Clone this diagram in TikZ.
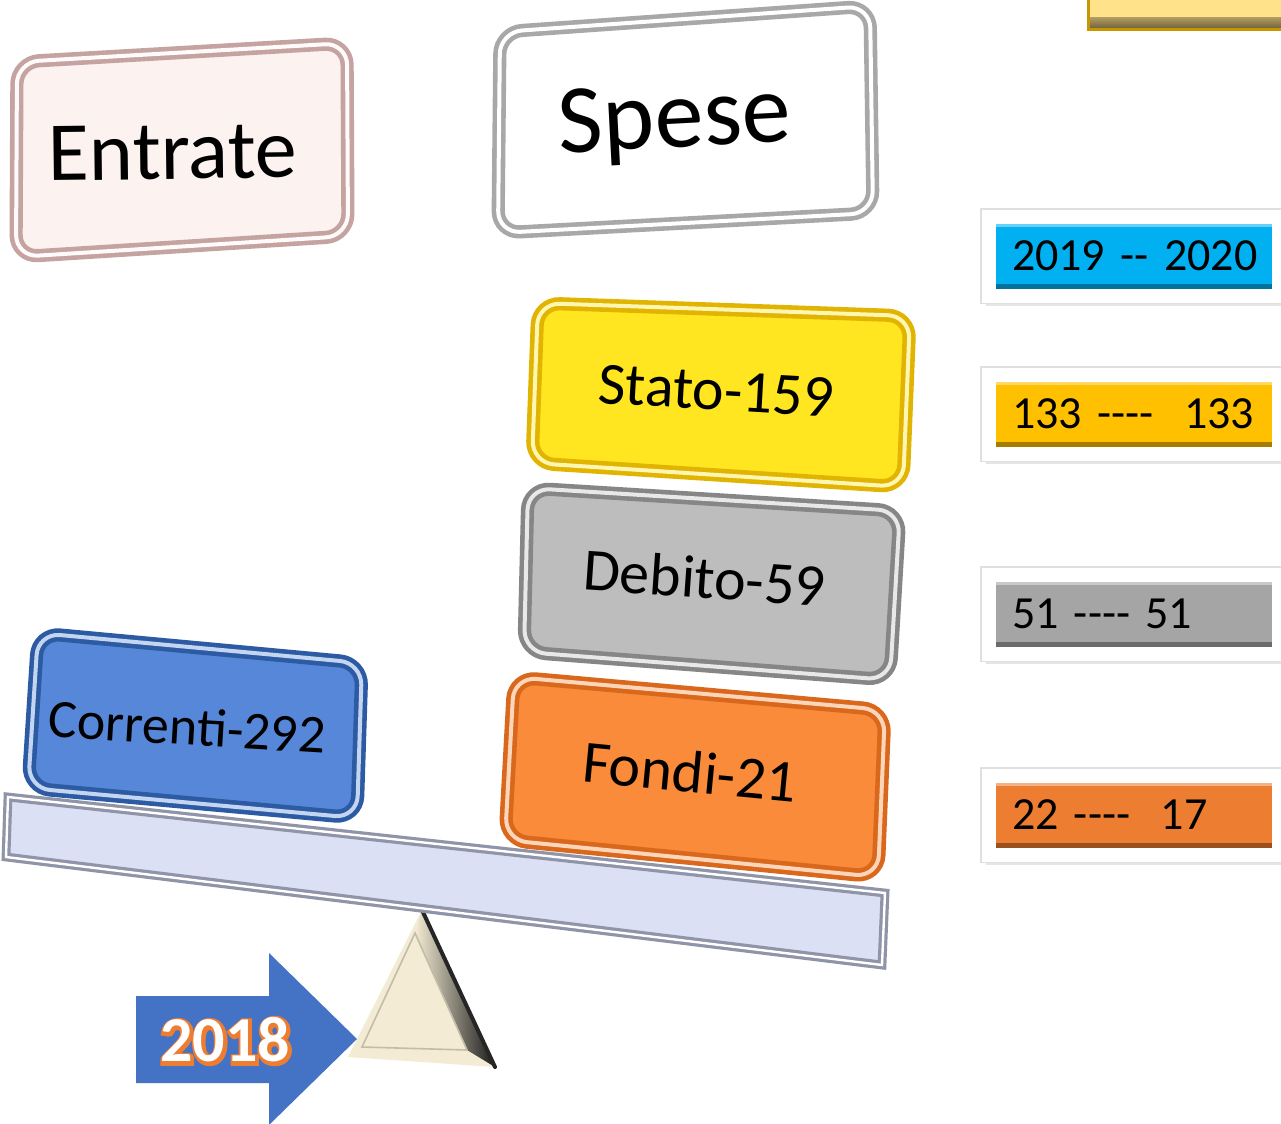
\documentclass[tikz,border=0pt]{standalone}
\usepackage{fontspec}
\setmainfont{Carlito}[Ligatures=TeXOff]
\newfontface\yearoutline{Carlito Bold}[FakeBold=9]
\usetikzlibrary{shadows}

\definecolor{entfill}{HTML}{FCF3F1}
\definecolor{entrim}{HTML}{C4A3A0}
\definecolor{spfill}{HTML}{FFFFFF}
\definecolor{sprim}{HTML}{A8A8A8}
\definecolor{stfill}{HTML}{FFE620}
\definecolor{strim}{HTML}{E0B400}
\definecolor{dbfill}{HTML}{BDBDBD}
\definecolor{dbrim}{HTML}{868686}
\definecolor{fofill}{HTML}{F98B3B}
\definecolor{forim}{HTML}{D9681C}
\definecolor{cofill}{HTML}{5787D9}
\definecolor{corim}{HTML}{2D5BA3}
\definecolor{beamfill}{HTML}{DCE0F5}
\definecolor{beamrim}{HTML}{9094A8}
\definecolor{tricream}{HTML}{F3EBD3}
\definecolor{arrowblue}{HTML}{4472C4}
\definecolor{arroworange}{HTML}{ED7D31}
\definecolor{tagblue}{HTML}{00B0F0}
\definecolor{taggold}{HTML}{FFC000}
\definecolor{taggray}{HTML}{A5A5A5}
\definecolor{tagorange}{HTML}{ED7D31}
\definecolor{cornergold}{HTML}{FFE28A}
\definecolor{cornerrim}{HTML}{C89600}

\tikzset{
  plate/.style 2 args={fill=#1, draw=#2, line width=2.3pt, double=#1!35!white,
    double distance=2pt, rounded corners=11pt,
    drop shadow={opacity=.22, shadow xshift=1.5pt, shadow yshift=-2.5pt}},
  platetext/.style={inner sep=0pt, anchor=base},
  tag/.style={fill=#1, draw=white, line width=7pt, minimum width=145pt,
    minimum height=39.5pt, inner xsep=11.75pt, text width=121.5pt, align=left,
    font=\fontsize{23}{28}\selectfont,
    drop shadow={opacity=.2, shadow scale=1.02, shadow xshift=0pt, shadow yshift=-5pt},
    preaction={draw=black!12, line width=8.5pt},
    path picture={
      \fill[#1!65!black] ([yshift=3.5pt]path picture bounding box.south west)
        rectangle ([yshift=6pt]path picture bounding box.south east);
      \fill[#1!60!white] ([yshift=-3.5pt]path picture bounding box.north west)
        rectangle ([yshift=-5pt]path picture bounding box.north east);}}
}

\begin{document}
\begin{tikzpicture}[x=0.5pt,y=-0.5pt]
  \useasboundingbox (0,0) rectangle (1281,1124);
  \fill[white] (0,0) rectangle (1281,1124);
  \clip (0,0) rectangle (1281,1124);

  % corner box, cut by the page edge
  \fill[cornergold] (1087,-10) rectangle (1290,30);
  \shade[top color=cornergold!70!black, bottom color=cornergold!45!black] (1090,17) rectangle (1290,28);
  \draw[cornerrim, line width=1.5pt] (1088,-10) -- (1088,29) -- (1290,29);

  % left plates
  \draw[plate={entfill}{entrim}] (17,62) -- (347,43) -- (348,236) -- (16,257) -- cycle;
  \node[platetext, rotate=0.7, font=\fontsize{42}{48}\selectfont] (entrate) at (173,179) {Entrate};

  \draw[plate={cofill}{corim}] (38,633) -- (362,663) -- (357,818) -- (28,788) -- cycle;
  \node[platetext, rotate=-3.5, font=\fontsize{27}{32}\selectfont] (correnti) at (186,745) {Correnti-292};

  % right plates
  \draw[plate={spfill}{sprim}] (500,32) -- (870,6) -- (873,213) -- (498,233) -- cycle;
  \node[platetext, rotate=3, font=\fontsize{49}{56}\selectfont] (spese) at (676,147) {Spese};

  \draw[plate={stfill}{strim}] (538,303) -- (910,316) -- (903,487) -- (532,463) -- cycle;
  \node[platetext, rotate=-3.3, font=\fontsize{30}{36}\selectfont] (stato) at (715,410) {Stato-159};

  \draw[plate={dbfill}{dbrim}] (528,488) -- (900,511) -- (890,680) -- (524,652) -- cycle;
  \node[platetext, rotate=-4, font=\fontsize{30}{36}\selectfont] (debito) at (703,598) {Debito-59};

  \draw[plate={fofill}{forim}] (514,677) -- (885,710) -- (878,877) -- (505,840) -- cycle;
  \node[platetext, rotate=-5.5, font=\fontsize{30}{36}\selectfont] (fondi) at (688,792) {Fondi-21};

  % fulcrum
  \fill[tricream] (422,910) -- (495,1067) -- (348,1057) -- cycle;
  \shade[left color=tricream, right color=black!90] (422,910) -- (495,1067) -- (467,1050) -- (415,933) -- cycle;
  \draw[tricream!80!black, line width=0.8pt] (415,933) -- (467,1050) -- (362,1047) -- cycle;
  \draw[black!85, line width=2pt, line cap=round] (422,910) -- (495,1067);

  % beam
  \draw[beamrim, line width=1.6pt, double=white, double distance=1.2pt, fill=beamfill,
    drop shadow={opacity=.2, shadow xshift=1pt, shadow yshift=-2pt}]
    (8,797) -- (885,893) -- (882,965) -- (6,857) -- cycle;

  % year arrow
  \fill[arrowblue] (136,996) -- (269,996) -- (269,953) -- (357,1039) -- (269,1125)
    -- (269,1083) -- (136,1083) -- cycle;
  \node[inner sep=0pt, text=arroworange, font=\yearoutline\fontsize{32}{38}\selectfont] (annobordo) at (226,1041) {2018};
  \node[inner sep=0pt, text=white, font=\bfseries\fontsize{32}{38}\selectfont] (anno) at (225,1040) {2018};

  % comparison tags
  \node[tag=tagblue] (tagyears) at (1133.5,256) {\mbox{2019 -- 2020}};
  \node[tag=taggold] (tagstato) at (1133.5,414) {\mbox{133 ----\ \ 133}};
  \node[tag=taggray] (tagdebito) at (1133.5,614) {\mbox{51 ---- 51}};
  \node[tag=tagorange] (tagfondi) at (1133.5,815) {\mbox{22 ----\ \ 17}};
\end{tikzpicture}
\end{document}
